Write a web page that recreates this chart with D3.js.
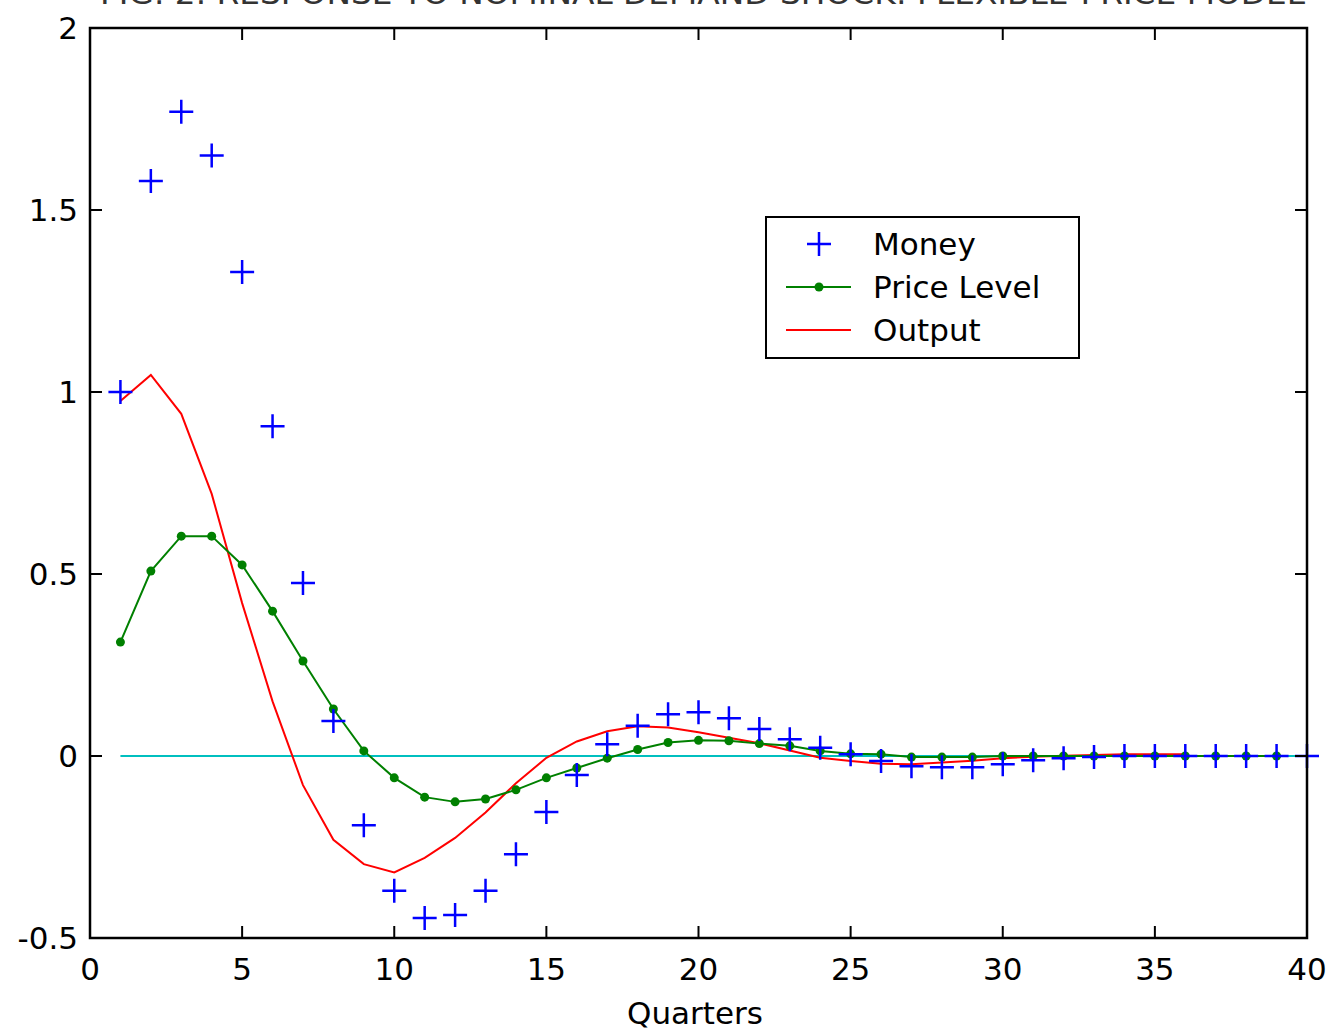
<!DOCTYPE html>
<html>
<head>
<meta charset="utf-8">
<script src="https://cdn.jsdelivr.net/npm/d3@7"></script>
<style>
  body { margin: 0; background: #fff; }
  svg { display: block; font-family: "DejaVu Sans", "Liberation Sans", Arial, sans-serif; }
</style>
</head>
<body>
<svg id="chart" width="1332" height="1030"></svg>
<script>
const quarters = d3.range(1, 41);

const money = [1.0, 1.58, 1.77, 1.65, 1.33, 0.906, 0.475, 0.096, -0.19, -0.37,
  -0.445, -0.437, -0.37, -0.27, -0.154, -0.052, 0.032, 0.083, 0.115, 0.12,
  0.104, 0.074, 0.046, 0.023, 0.005, -0.014, -0.028, -0.031, -0.031, -0.023,
  -0.012, -0.006, -0.003, 0.0, 0.0, 0.0, 0.0, 0.0, 0.0, 0.0];

const priceLevel = [0.313, 0.508, 0.604, 0.604, 0.525, 0.398, 0.261, 0.129, 0.014, -0.06,
  -0.113, -0.126, -0.118, -0.093, -0.06, -0.033, -0.006, 0.018, 0.037, 0.043,
  0.042, 0.034, 0.028, 0.014, 0.006, 0.005, -0.003, -0.003, -0.003, 0.0,
  0.0, 0.0, 0.0, 0.0, 0.0, 0.0, 0.0, 0.0, 0.0];

const output = [0.975, 1.047, 0.94, 0.72, 0.42, 0.15, -0.08, -0.23, -0.297, -0.32,
  -0.28, -0.225, -0.155, -0.075, -0.005, 0.04, 0.068, 0.082, 0.078, 0.065,
  0.05, 0.035, 0.015, -0.005, -0.014, -0.021, -0.023, -0.018, -0.013, -0.006,
  -0.002, 0.001, 0.003, 0.005, 0.005, 0.005];

const xTicks = [0, 5, 10, 15, 20, 25, 30, 35, 40];
const yTicks = [-0.5, 0, 0.5, 1, 1.5, 2];
const legendLabels = ['Money', 'Price Level', 'Output'];
const titleText = 'FIG. 2. RESPONSE TO NOMINAL DEMAND SHOCK: FLEXIBLE-PRICE MODEL';

const svg = d3.select('#chart');
const fontSize = '31px';

/* Scales */
const xScale = d3.scaleLinear().domain([0, 40]).range([90, 1307]);
const yScale = d3.scaleLinear().domain([-0.5, 2]).range([938, 28]);

/* Title (cut off at the top, as in the original) */
svg.append('text')
  .attr('x', 100)
  .attr('y', 4)
  .attr('textLength', 1205)
  .attr('lengthAdjust', 'spacingAndGlyphs')
  .style('font-size', '30px')
  .style('fill', '#333')
  .text(titleText);

/* Zero line */
svg.append('line')
  .attr('x1', xScale(1)).attr('x2', xScale(40))
  .attr('y1', yScale(0)).attr('y2', yScale(0))
  .attr('stroke', '#00bfbf')
  .attr('stroke-width', 2);

/* Output */
const line = d3.line()
  .x((d, i) => xScale(quarters[i]))
  .y(d => yScale(d));

svg.append('path')
  .datum(output)
  .attr('d', line)
  .attr('fill', 'none')
  .attr('stroke', '#ff0000')
  .attr('stroke-width', 2);

/* Price level */
svg.append('path')
  .datum(priceLevel)
  .attr('d', line)
  .attr('fill', 'none')
  .attr('stroke', '#008000')
  .attr('stroke-width', 2);

svg.selectAll('circle.price')
  .data(priceLevel)
  .enter()
  .append('circle')
  .attr('class', 'price')
  .attr('cx', (d, i) => xScale(quarters[i]))
  .attr('cy', d => yScale(d))
  .attr('r', 4.5)
  .attr('fill', '#008000');

/* Money */
const crossPath = 'M-12,0H12M0,-12V12';
svg.selectAll('path.money')
  .data(money)
  .enter()
  .append('path')
  .attr('class', 'money')
  .attr('d', crossPath)
  .attr('transform', (d, i) => 'translate(' + xScale(quarters[i]) + ',' + yScale(d) + ')')
  .attr('stroke', '#0000ff')
  .attr('stroke-width', 2.5)
  .attr('fill', 'none');

/* Axes box with inward ticks */
const box = svg.append('g');
box.append('rect')
  .attr('x', xScale(0)).attr('y', yScale(2))
  .attr('width', xScale(40) - xScale(0))
  .attr('height', yScale(-0.5) - yScale(2))
  .attr('fill', 'none')
  .attr('stroke', '#000')
  .attr('stroke-width', 2.5);

const tickLen = 12;
xTicks.forEach(t => {
  box.append('line')
    .attr('x1', xScale(t)).attr('x2', xScale(t))
    .attr('y1', yScale(-0.5)).attr('y2', yScale(-0.5) - tickLen)
    .attr('stroke', '#000').attr('stroke-width', 2);
  box.append('line')
    .attr('x1', xScale(t)).attr('x2', xScale(t))
    .attr('y1', yScale(2)).attr('y2', yScale(2) + tickLen)
    .attr('stroke', '#000').attr('stroke-width', 2);
  box.append('text')
    .attr('x', xScale(t))
    .attr('y', 980)
    .attr('text-anchor', 'middle')
    .style('font-size', fontSize)
    .text(t);
});

yTicks.forEach(t => {
  box.append('line')
    .attr('x1', xScale(0)).attr('x2', xScale(0) + tickLen)
    .attr('y1', yScale(t)).attr('y2', yScale(t))
    .attr('stroke', '#000').attr('stroke-width', 2);
  box.append('line')
    .attr('x1', xScale(40)).attr('x2', xScale(40) - tickLen)
    .attr('y1', yScale(t)).attr('y2', yScale(t))
    .attr('stroke', '#000').attr('stroke-width', 2);
  box.append('text')
    .attr('x', 78)
    .attr('y', yScale(t))
    .attr('dy', '0.36em')
    .attr('text-anchor', 'end')
    .style('font-size', fontSize)
    .text(t);
});

/* X label */
svg.append('text')
  .attr('x', 695)
  .attr('y', 1024)
  .attr('text-anchor', 'middle')
  .style('font-size', fontSize)
  .text('Quarters');

/* Legend */
const legend = svg.append('g').attr('transform', 'translate(766,217)');
legend.append('rect')
  .attr('width', 313).attr('height', 141)
  .attr('fill', '#fff')
  .attr('stroke', '#000')
  .attr('stroke-width', 2);

legendLabels.forEach((label, i) => {
  const cy = 27 + i * 43;
  const row = legend.append('g').attr('transform', 'translate(0,' + cy + ')');
  if (i === 0) {
    row.append('path')
      .attr('d', crossPath)
      .attr('transform', 'translate(53,0)')
      .attr('stroke', '#0000ff').attr('stroke-width', 2.5);
  } else {
    row.append('line')
      .attr('x1', 20).attr('x2', 85)
      .attr('stroke', i === 1 ? '#008000' : '#ff0000')
      .attr('stroke-width', 2);
    if (i === 1) {
      row.append('circle').attr('cx', 53).attr('r', 4.5).attr('fill', '#008000');
    }
  }
  row.append('text')
    .attr('x', 107)
    .attr('dy', '0.36em')
    .style('font-size', fontSize)
    .text(label);
});
</script>
</body>
</html>
